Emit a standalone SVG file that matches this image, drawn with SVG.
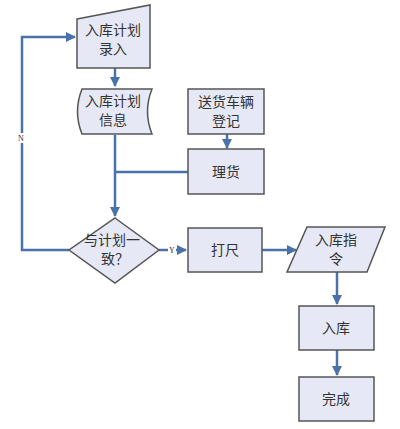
<svg xmlns="http://www.w3.org/2000/svg" width="400" height="429" viewBox="0 0 400 429">
<defs>
<marker id="ah" viewBox="0 0 10 10" refX="9" refY="5" markerWidth="4" markerHeight="4" orient="auto" markerUnits="strokeWidth"><path d="M0,0 L10,5 L0,10 z" fill="#4a72a8"/></marker>
<style>
.n{fill:#e6e9f5;stroke:#555;stroke-width:1.5}
.t{font-family:"Noto Sans CJK SC","Liberation Sans",sans-serif;font-size:14px;fill:#333;text-anchor:middle}
.c{fill:none;stroke:#4a72a8;stroke-width:2.5}
.l{font-family:"Liberation Serif",serif;font-size:8px;fill:#333;text-anchor:middle}
</style>
</defs>
<rect width="400" height="429" fill="#fff"/>
<g id="connectors">
<path class="c" d="M115,68 V86" marker-end="url(#ah)"/>
<path class="c" d="M115,135 V216" marker-end="url(#ah)"/>
<path class="c" d="M188,172 H115"/>
<path class="c" d="M227,134 V148" marker-end="url(#ah)"/>
<path class="c" d="M69,250 H22 V37 H75" marker-end="url(#ah)"/>
<path class="c" d="M159,250 H186" marker-end="url(#ah)"/>
<path class="c" d="M262,250 H296" marker-end="url(#ah)"/>
<path class="c" d="M337,272 V304" marker-end="url(#ah)"/>
<path class="c" d="M337,350 V375" marker-end="url(#ah)"/>
<rect x="17" y="133" width="8" height="10" fill="#fff"/>
<text class="l" x="21" y="141">N</text>
<rect x="168" y="245" width="8" height="10" fill="#fff"/>
<text class="l" x="172" y="253">Y</text>
</g>
<g id="n1">
<path class="n" d="M77,19 L150,5 V68 H77 Z"/>
<text class="t" x="113" y="35">入库计划</text>
<text class="t" x="113" y="54">录入</text>
</g>
<g id="n2">
<path class="n" d="M82,89 H152 Q143,111.5 152,134 H82 Q73,111.5 82,89 Z"/>
<text class="t" x="113" y="106">入库计划</text>
<text class="t" x="113" y="125">信息</text>
</g>
<g id="n3">
<rect class="n" x="188" y="89" width="76" height="45"/>
<text class="t" x="226" y="107">送货车辆</text>
<text class="t" x="226" y="126">登记</text>
</g>
<g id="n4">
<rect class="n" x="188" y="149" width="76" height="45"/>
<text class="t" x="226" y="177">理货</text>
</g>
<g id="n5">
<path class="n" d="M115,218 L159,250 L115,283 L69,250 Z"/>
<text class="t" x="112" y="245">与计划一</text>
<text class="t" x="115" y="264">致？</text>
</g>
<g id="n6">
<rect class="n" x="188" y="228" width="74" height="44"/>
<text class="t" x="225" y="255">打尺</text>
</g>
<g id="n7">
<path class="n" d="M307,227 H385 L367,272 H287 Z"/>
<text class="t" x="336" y="245">入库指</text>
<text class="t" x="336" y="264">令</text>
</g>
<g id="n8">
<rect class="n" x="299" y="306" width="75" height="44"/>
<text class="t" x="336" y="333">入库</text>
</g>
<g id="n9">
<rect class="n" x="299" y="377" width="75" height="44"/>
<text class="t" x="336" y="404">完成</text>
</g>
</svg>
